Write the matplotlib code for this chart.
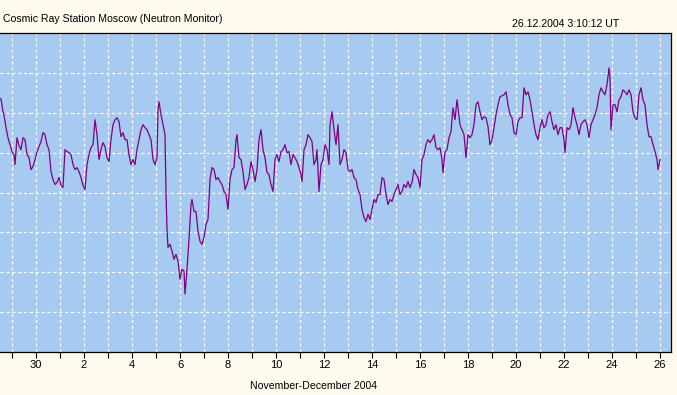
import matplotlib
matplotlib.use("Agg")
import matplotlib.pyplot as plt
import numpy as np

# Hours since 2004-11-28 12:00 UT
hours = [0, 1, 3, 4, 6, 8, 10, 12, 14, 15, 17, 19, 21, 23, 25, 27, 29, 31, 33, 35,
         37, 39, 41, 43, 45, 47, 49, 51, 53, 55, 57, 59, 61, 63, 65, 67, 69, 71, 73, 75,
         77, 79, 81, 83, 85, 87, 89, 91, 93, 95, 97, 99, 101, 103, 105, 107, 109, 111, 113, 115,
         117, 119, 121, 123, 125, 127, 129, 131, 133, 135, 137, 139, 141, 143, 145, 147, 149, 151, 153, 155,
         157, 158, 159, 161, 163, 165, 166, 167, 168, 170, 172, 174, 176, 178, 180, 182, 184, 185, 187, 189,
         190, 191, 192, 194, 196, 198, 200, 202, 204, 206, 208, 210, 212, 214, 216, 218, 220, 222, 224, 226,
         228, 230, 232, 234, 236, 237, 239, 241, 243, 245, 247, 249, 251, 253, 255, 257, 259, 261, 263, 265,
         267, 269, 271, 273, 275, 277, 279, 281, 283, 285, 287, 289, 291, 293, 295, 297, 299, 301, 302, 304,
         306, 308, 310, 312, 314, 316, 317, 319, 321, 323, 325, 327, 329, 330, 332, 334, 336, 338, 340, 342,
         344, 346, 348, 350, 352, 354, 356, 358, 360, 362, 364, 366, 368, 370, 372, 374, 376, 378, 380, 382,
         384, 386, 388, 390, 392, 394, 396, 398, 400, 402, 404, 406, 408, 410, 412, 414, 416, 418, 420, 422,
         424, 426, 428, 430, 432, 434, 436, 438, 440, 442, 443, 445, 447, 449, 451, 453, 455, 457, 458, 460,
         462, 464, 466, 468, 470, 472, 474, 476, 478, 480, 482, 484, 486, 488, 490, 492, 494, 496, 498, 500,
         502, 504, 506, 508, 510, 512, 514, 516, 518, 520, 522, 524, 526, 528, 530, 532, 534, 536, 538, 540,
         542, 544, 546, 548, 550, 552, 554, 556, 558, 560, 562, 564, 565, 567, 569, 571, 573, 575, 577, 579,
         581, 583, 585, 587, 589, 591, 593, 595, 597, 599, 601, 603, 605, 607, 609, 610, 611, 613, 615, 617,
         619, 621, 623, 625, 627, 629, 631, 633, 635, 637, 639, 641, 643, 645, 647, 649, 651, 653, 655, 657,
         658, 659, 660]

# Count rate (arbitrary units)
rate = [254, 254, 241, 238, 225, 215, 208, 201, 198, 188, 215, 207, 203, 215, 213, 198, 195, 183, 186, 193,
        201, 206, 211, 220, 218, 208, 203, 181, 173, 168, 170, 175, 167, 165, 203, 201, 200, 198, 188, 183,
        185, 181, 175, 167, 163, 188, 198, 205, 208, 233, 218, 193, 203, 210, 206, 195, 191, 213, 228, 233,
        235, 231, 216, 220, 213, 213, 198, 188, 193, 188, 203, 213, 223, 228, 225, 223, 218, 213, 193, 188,
        195, 243, 251, 238, 228, 218, 160, 123, 105, 108, 101, 93, 98, 91, 73, 83, 81, 58, 83, 113,
        131, 148, 153, 141, 141, 121, 111, 108, 115, 128, 133, 173, 185, 183, 173, 175, 171, 168, 161, 158,
        143, 173, 183, 185, 213, 218, 195, 193, 181, 163, 168, 175, 191, 183, 171, 183, 213, 223, 203, 195,
        180, 178, 168, 161, 193, 198, 191, 201, 203, 208, 200, 201, 188, 198, 195, 191, 185, 178, 171, 203,
        208, 218, 215, 211, 188, 193, 203, 161, 188, 193, 208, 203, 188, 228, 241, 223, 208, 228, 188, 193,
        203, 200, 183, 181, 183, 175, 173, 163, 158, 143, 135, 131, 138, 133, 143, 153, 150, 158, 158, 175,
        173, 158, 148, 153, 151, 158, 163, 168, 158, 161, 168, 165, 171, 165, 170, 183, 178, 175, 165, 193,
        198, 208, 213, 210, 213, 218, 205, 203, 205, 193, 180, 201, 203, 215, 221, 245, 233, 253, 245, 228,
        223, 218, 195, 218, 215, 218, 228, 248, 251, 241, 233, 236, 235, 226, 208, 213, 225, 238, 248, 256,
        257, 258, 261, 248, 238, 235, 220, 218, 231, 235, 235, 265, 258, 261, 253, 241, 228, 218, 213, 225,
        233, 225, 228, 238, 241, 231, 223, 228, 218, 225, 225, 213, 200, 225, 223, 228, 245, 235, 228, 218,
        228, 231, 233, 228, 215, 228, 233, 238, 245, 258, 265, 261, 258, 268, 285, 275, 223, 248, 248, 241,
        253, 256, 263, 261, 258, 263, 258, 241, 235, 233, 258, 265, 253, 248, 228, 216, 216, 208, 201, 193,
        183, 188, 193]

tick_labels = ["", "30"] + [str(d) if d % 2 == 0 else "" for d in range(1, 27)]

title_left = "Cosmic Ray Station Moscow (Neutron Monitor)"
title_right = "26.12.2004 3:10:12 UT"
xlabel = "November-December 2004"

W, H = 677, 395
fig = plt.figure(figsize=(W / 100, H / 100), dpi=100, facecolor="#FFF9EE")
ax = fig.add_axes([0 / W, (H - 352) / H, 671 / W, (352 - 33) / H])
ax.set_facecolor("#A6CAF0")

t = (np.array(hours) - 60) / 24.0  # days since 2004-12-01 00:00
ax.plot(t, rate, color="#800080", lw=0.9)

tick_pos = [-2, -1] + [d - 1 for d in range(1, 27)]
ax.set_xticks(tick_pos)
ax.set_xticklabels(tick_labels)
ax.set_xlim(-2.5, 671 / 24 - 2.5)
ax.set_ylim(0, 320)
ax.set_yticks(np.arange(40, 320, 40))
ax.tick_params(axis="y", left=False, labelleft=False)
ax.tick_params(axis="x", direction="out", length=4, width=0.8, pad=2,
               labelsize=8, colors="black")
for lbl in ax.get_xticklabels():
    lbl.set_fontfamily("Liberation Sans")

ax.grid(True, color="white", lw=0.9, linestyle=(0, (2.5, 2.2)))
ax.spines["left"].set_visible(False)
for s in ("top", "right", "bottom"):
    ax.spines[s].set_color("black")
    ax.spines[s].set_linewidth(0.9)

fig.text(3 / W, 1 - 19 / H, title_left, ha="left", va="center",
         fontsize=7.6, family="Liberation Sans")
fig.text(512 / W, 1 - 24 / H, title_right, ha="left", va="center",
         fontsize=7.6, family="Liberation Sans")
fig.text(250 / W, 1 - 386 / H, xlabel, ha="left", va="center",
         fontsize=7.6, family="Liberation Sans")

fig.savefig("out.png", dpi=100, facecolor=fig.get_facecolor())
